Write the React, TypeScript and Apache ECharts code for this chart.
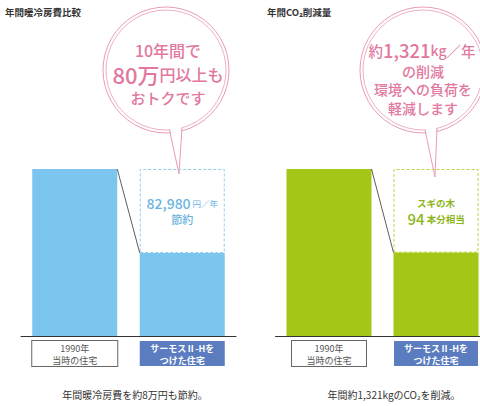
import React, { useEffect, useRef } from "react";
import * as echarts from "echarts";

// ---- data ----
const houseCategories = ["1990年\n当時の住宅", "サーモスⅡ-Hを\nつけた住宅"];
const costValues = [165000, 82020]; // 年間暖冷房費 (円)
const costSaving = 82980; // 円／年
const co2Values = [2640, 1319]; // 年間CO2 (kg)
const co2Saving = 1321; // kg／年
const cedarTrees = 94; // スギの木 本分相当

const titles = ["年間暖冷房費比較", "年間CO₂削減量"];
const captions = ["年間暖冷房費を約8万円も節約。", "年間約1,321kgのCO₂を削減。"];

const FONT = '"Noto Sans CJK JP", "Noto Sans", sans-serif';
const BLUE = "#7bc5ee";
const BLUE_TXT = "#6ab4de";
const GREEN = "#a3c617";
const GREEN_TXT = "#8db61c";
const PINK = "#e2779f";
const PINK_LINE = "#e99bb9";
const BAR_W = 85;

function catData(labelWidths: number[]) {
  return [
    {
      value: houseCategories[0],
      textStyle: {
        color: "#555",
        backgroundColor: "#fff",
        borderColor: "#666",
        borderWidth: 1,
        width: labelWidths[0],
        align: "center",
        padding: [1, 0, 0, 0],
        lineHeight: 12,
        fontSize: 9,
        fontFamily: FONT,
      },
    },
    {
      value: houseCategories[1],
      textStyle: {
        color: "#fff",
        fontWeight: "bold",
        backgroundColor: "#5b7dc0",
        width: labelWidths[1],
        align: "center",
        padding: [1, 0, 0, 0],
        lineHeight: 12,
        fontSize: 9,
        fontFamily: FONT,
      },
    },
  ];
}

function linkSeries(idx: number, values: number[]) {
  return {
    type: "custom",
    xAxisIndex: idx,
    yAxisIndex: idx,
    z: 5,
    data: [[0, values[0], values[1]]],
    renderItem: (params: any, api: any) => {
      const p0 = api.coord([0, api.value(1)]);
      const p1 = api.coord([1, api.value(2)]);
      return {
        type: "line",
        shape: { x1: p0[0] + BAR_W / 2, y1: p0[1], x2: p1[0] - BAR_W / 2, y2: p1[1] },
        style: { stroke: "#333", lineWidth: 0.8 },
      };
    },
  };
}

function bubble(cx: number, cy: number, tail: number[][], texts: any[]) {
  const els: any[] = [
    { type: "circle", shape: { cx, cy, r: 63 }, style: { fill: "#fff", stroke: PINK_LINE, lineWidth: 1 } },
    { type: "circle", shape: { cx, cy, r: 60 }, style: { fill: "none", stroke: PINK_LINE, lineWidth: 0.8 } },
    {
      type: "polygon",
      shape: { points: [[tail[0][0] + 0.5, tail[0][1] - 3], [tail[1][0] - 0.5, tail[1][1] - 3], tail[2]] },
      style: { fill: "#fff", stroke: "none" },
    },
    { type: "polyline", shape: { points: [tail[0], tail[2], tail[1]] }, style: { fill: "none", stroke: PINK_LINE, lineWidth: 1 } },
  ];
  return els.concat(texts);
}

function txt(x: number, y: number, text: string, fontSize: number, rich?: any, fill = PINK, fontWeight: any = 500) {
  return {
    type: "text",
    x,
    y,
    style: {
      text,
      fontSize,
      fontFamily: FONT,
      fontWeight,
      fill,
      align: "center",
      verticalAlign: "middle",
      rich,
    },
  };
}

export default function App() {
  const ref = useRef<HTMLDivElement>(null);

  useEffect(() => {
    document.body.style.margin = "0";
    const chart = echarts.init(ref.current!, null, { renderer: "svg" });

    const pinkRich = (size: number) => ({ fontSize: size, fill: PINK, fontFamily: FONT, fontWeight: 500 });

    const option: any = {
      animation: false,
      backgroundColor: "#fff",
      textStyle: { fontFamily: FONT },
      grid: [
        { left: 21, top: 169, width: 215, height: 167, containLabel: false, outerBoundsMode: "none" },
        { left: 275.5, top: 169, width: 214, height: 167, containLabel: false, outerBoundsMode: "none" },
      ],
      xAxis: [0, 1].map((i) => ({
        type: "category",
        gridIndex: i,
        data: catData(i === 0 ? [85, 85] : [74, 84]),
        axisTick: { show: false },
        axisLine: { lineStyle: { color: "#333", width: 1 } },
        axisLabel: { margin: 5, interval: 0 },
      })),
      yAxis: [
        { type: "value", gridIndex: 0, min: 0, max: costValues[0], show: false, splitLine: { show: false } },
        { type: "value", gridIndex: 1, min: 0, max: co2Values[0], show: false, splitLine: { show: false } },
      ],
      series: [
        {
          type: "bar",
          name: "暖冷房費",
          xAxisIndex: 0,
          yAxisIndex: 0,
          stack: "cost",
          barWidth: BAR_W,
          data: costValues,
          itemStyle: { color: BLUE },
        },
        {
          type: "bar",
          name: "節約",
          xAxisIndex: 0,
          yAxisIndex: 0,
          stack: "cost",
          barWidth: BAR_W,
          data: ["-", costSaving],
          itemStyle: { color: "rgba(255,255,255,0)", borderColor: "#93cfee", borderWidth: 1, borderType: [3, 2] },
          label: {
            show: true,
            position: "inside",
            formatter: (p: any) => `{num|${Number(p.value).toLocaleString("en-US")}}{unit| 円／年}\n{sub|節約}`,
            rich: {
              num: { fontSize: 14, color: BLUE_TXT, fontFamily: FONT, fontWeight: 500, lineHeight: 17 },
              unit: { fontSize: 8.5, color: BLUE_TXT, fontFamily: FONT, lineHeight: 17 },
              sub: { fontSize: 11, color: BLUE_TXT, fontFamily: FONT, fontWeight: 500, lineHeight: 16 },
            },
          },
        },
        linkSeries(0, costValues),
        {
          type: "bar",
          name: "CO2",
          xAxisIndex: 1,
          yAxisIndex: 1,
          stack: "co2",
          barWidth: BAR_W,
          data: co2Values,
          itemStyle: { color: GREEN },
        },
        {
          type: "bar",
          name: "削減",
          xAxisIndex: 1,
          yAxisIndex: 1,
          stack: "co2",
          barWidth: BAR_W,
          data: ["-", co2Saving],
          itemStyle: { color: "rgba(255,255,255,0)", borderColor: "#bcd54a", borderWidth: 1, borderType: [3, 2] },
          label: {
            show: true,
            position: "inside",
            formatter: () => `{s|スギの木}\n{num|${cedarTrees}}{s| 本分相当}`,
            rich: {
              s: { fontSize: 9.5, color: GREEN_TXT, fontWeight: "bold", fontFamily: FONT, lineHeight: 16 },
              num: { fontSize: 15, color: GREEN_TXT, fontWeight: 500, fontFamily: FONT, lineHeight: 16 },
            },
          },
        },
        linkSeries(1, co2Values),
      ],
      graphic: [
        {
          type: "text",
          left: 5,
          top: 7,
          style: { text: titles[0], fontSize: 9.5, fontWeight: "bold", fill: "#333", fontFamily: FONT },
        },
        {
          type: "text",
          left: 267,
          top: 7,
          style: { text: titles[1], fontSize: 9.5, fontWeight: "bold", fill: "#333", fontFamily: FONT },
        },
        txt(135, 394, captions[0], 10, undefined, "#333", "normal"),
        txt(394, 394, captions[1], 10, undefined, "#333", "normal"),
        ...bubble(166, 70, [[169.5, 130], [182, 128], [179, 174]], [
          txt(168, 50, "10年間で", 16),
          txt(168, 74, "{a|80万}{b|円以上も}", 16, { a: pinkRich(22), b: pinkRich(16) }),
          txt(168, 97, "おトクです", 15),
        ]),
        ...bubble(423, 70, [[425, 130], [437, 128], [435, 177]], [
          txt(422, 50, "{a|約}{b|1,321}{c|kg}{a|／年}", 14.5, { a: pinkRich(14.5), b: pinkRich(18.5), c: pinkRich(14) }),
          txt(423, 70.5, "の削減", 14),
          txt(423, 89, "環境への負荷を", 14),
          txt(423, 107.5, "軽減します", 14),
        ]),
      ],
    };

    chart.setOption(option);
    return () => chart.dispose();
  }, []);

  return <div ref={ref} style={{ width: 480, height: 406 }} />;
}
